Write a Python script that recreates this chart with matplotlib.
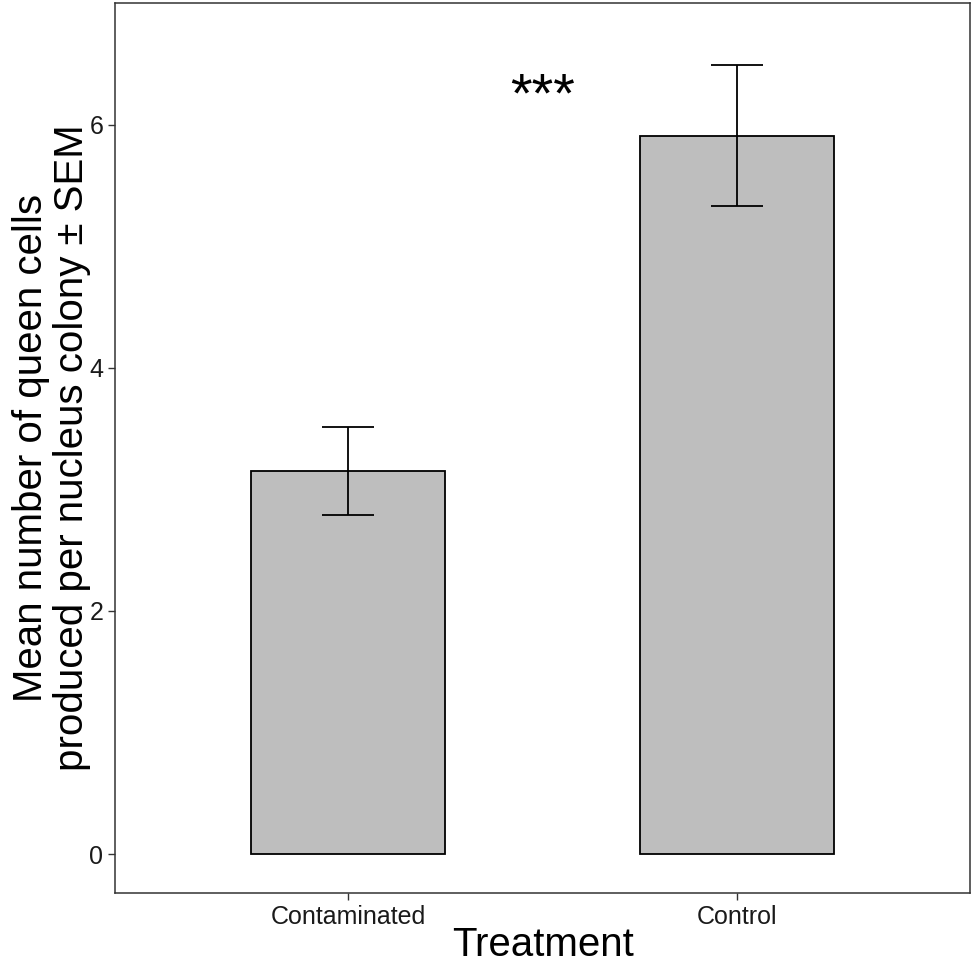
import matplotlib
matplotlib.use("Agg")
import matplotlib.pyplot as plt

plt.rcParams['font.family'] = ['Liberation Sans', 'DejaVu Sans']

treatments = ["Contaminated", "Control"]
means = [3.15, 5.91]
sem_low = [2.79, 5.33]
sem_high = [3.51, 6.49]
yticks = [0, 2, 4, 6]

fig = plt.figure(figsize=(9.74, 9.66), dpi=100)
ax = fig.add_axes([0.118, 0.0756, 0.878, 0.9213])

x = list(range(len(treatments)))
ax.bar(x, means, width=0.5, color="#bebebe", edgecolor="black", linewidth=1.3, zorder=2)

err = [[m - lo for m, lo in zip(means, sem_low)], [hi - m for m, hi in zip(means, sem_high)]]
ax.errorbar(x, means, yerr=err, fmt="none", ecolor="black", elinewidth=1.3,
            capsize=19, capthick=1.3, zorder=3)

# significance stars
ax.text(0.5, 6.22, "***", ha="center", va="center", fontsize=40)

ax.set_xlim(-0.6, 1.6)
ax.set_ylim(-0.32, 7.0)
ax.set_xticks(x)
ax.set_xticklabels(treatments)
ax.set_yticks(yticks)
ax.tick_params(axis="both", labelsize=18, length=5, width=1, color="#333333", labelcolor="#1a1a1a")
for s in ax.spines.values():
    s.set_linewidth(1.1)
    s.set_color("#333333")

ax.set_xlabel("Treatment", fontsize=29)
ax.set_ylabel("Mean number of queen cells\nproduced per nucleus colony ± SEM", fontsize=29,
              linespacing=1.1)
ax.yaxis.set_label_coords(-0.028, 0.5)
ax.xaxis.set_label_coords(0.5, -0.037)

fig.savefig("out.png", dpi=100)
plt.close(fig)
